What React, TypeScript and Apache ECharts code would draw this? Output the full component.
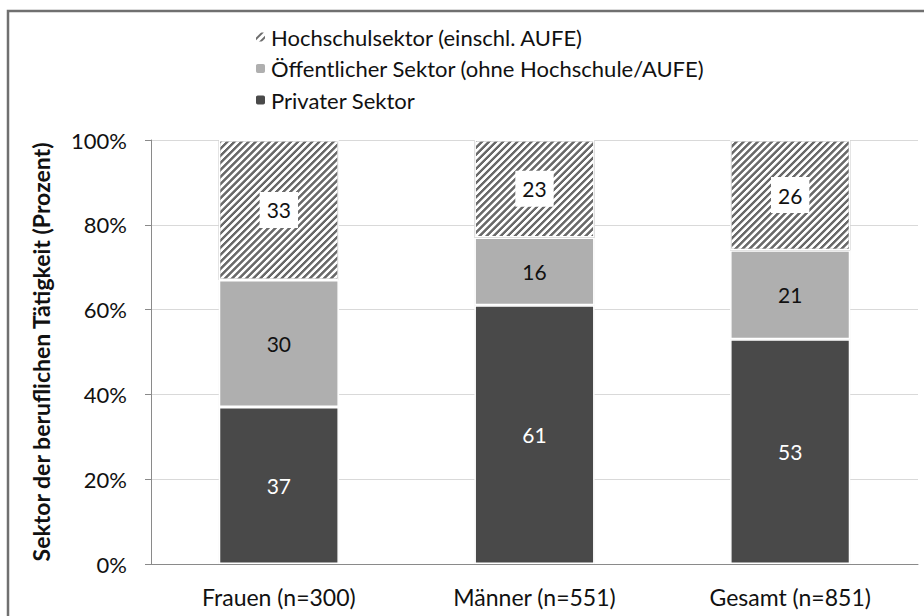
import React, { useEffect, useRef } from "react";
import * as echarts from "echarts";

const categories = ["Frauen (n=300)", "Männer (n=551)", "Gesamt (n=851)"];
const privat = [37, 61, 53];
const oeffentlich = [30, 16, 21];
const hochschule = [33, 23, 26];
const seriesNames = [
  "Hochschulsektor (einschl. AUFE)",
  "Öffentlicher Sektor (ohne Hochschule/AUFE)",
  "Privater Sektor",
];
const yTicks = [0, 20, 40, 60, 80, 100];
const yAxisTitle = "Sektor der beruflichen Tätigkeit (Prozent)";

const FONT = "Lato, 'Open Sans', sans-serif";
const LABEL_FS = 21;

export default function App() {
  const ref = useRef<HTMLDivElement>(null);
  useEffect(() => {
    document.body.style.margin = "0";
    if (!ref.current) return;
    const chart = echarts.init(ref.current, null, { renderer: "svg" });
    const barBase = {
      type: "bar" as const,
      stack: "total",
      barWidth: "47%",
      itemStyle: {
        borderColor: "#ffffff",
        borderWidth: 1.5,
        shadowBlur: 1.5,
        shadowColor: "rgba(0,0,0,0.18)",
      },
    };
    chart.setOption({
      animation: false,
      textStyle: { fontFamily: FONT },
      graphic: [
        {
          type: "rect",
          shape: { x: 8, y: 11, width: 930, height: 620 },
          style: { fill: "none", stroke: "#707070", lineWidth: 2.5 },
          silent: true,
        },
      ],
      legend: {
        orient: "vertical",
        left: 249,
        top: 21,
        itemWidth: 11,
        itemHeight: 11,
        itemGap: 9.5,
        data: seriesNames,
        textStyle: { fontSize: 22, lineHeight: 22, color: "#111", fontFamily: FONT },
        selectedMode: false,
      },
      grid: { left: 151, right: 6, top: 140, bottom: 52, containLabel: false },
      xAxis: {
        type: "category",
        data: categories,
        axisLine: { lineStyle: { color: "#8a8a8a", width: 1 } },
        axisTick: { show: false },
        axisLabel: { fontSize: 23, color: "#111", margin: 21, fontFamily: FONT },
      },
      yAxis: {
        type: "value",
        min: yTicks[0],
        max: yTicks[yTicks.length - 1],
        interval: 20,
        name: yAxisTitle,
        nameLocation: "middle",
        nameGap: 99,
        nameTextStyle: { fontSize: 23, fontWeight: "bold", color: "#111", fontFamily: FONT },
        axisLine: { show: true, lineStyle: { color: "#8a8a8a", width: 1 } },
        axisTick: { show: true, inside: false, length: 6, lineStyle: { color: "#8a8a8a" } },
        splitLine: { lineStyle: { color: "#d9d9d9", width: 1 } },
        axisLabel: {
          formatter: "{value}%",
          fontSize: 22,
          color: "#111",
          margin: 24,
          fontFamily: FONT,
        },
      },
      series: [
        {
          ...barBase,
          name: seriesNames[2],
          data: privat,
          itemStyle: { ...barBase.itemStyle, color: "#4a4a4a" },
          label: { show: true, position: "inside", color: "#ffffff", fontSize: LABEL_FS, fontFamily: FONT },
        },
        {
          ...barBase,
          name: seriesNames[1],
          data: oeffentlich,
          itemStyle: { ...barBase.itemStyle, color: "#afafaf" },
          label: { show: true, position: "inside", color: "#111", fontSize: LABEL_FS, fontFamily: FONT },
        },
        {
          ...barBase,
          name: seriesNames[0],
          data: hochschule,
          itemStyle: {
            ...barBase.itemStyle,
            color: "#ffffff",
            decal: {
              symbol: "rect",
              symbolSize: 1,
              dashArrayX: [1, 0],
              dashArrayY: [1.6, 2.2],
              rotation: -Math.PI / 4,
              color: "#6a6a6a",
              backgroundColor: "#ffffff",
            },
          },
          label: {
            show: true,
            position: "inside",
            color: "#111",
            fontSize: LABEL_FS,
            lineHeight: 21,
            fontFamily: FONT,
            backgroundColor: "#ffffff",
            padding: [8, 7, 7, 7],
          },
        },
      ],
    });
    return () => chart.dispose();
  }, []);
  return <div ref={ref} style={{ width: 924, height: 616 }} />;
}
